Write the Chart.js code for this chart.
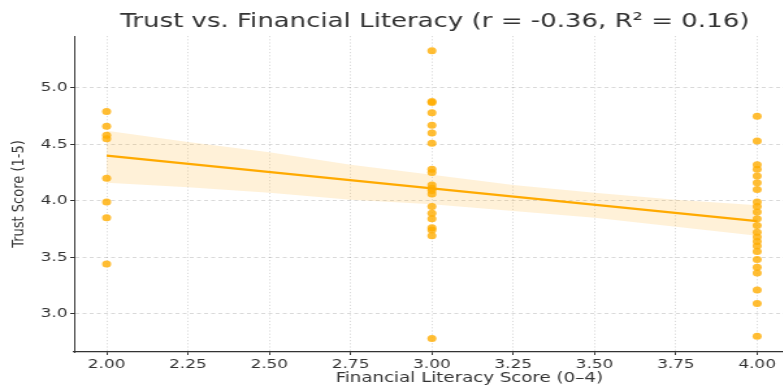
<!DOCTYPE html>
<html>
<head>
<meta charset="utf-8">
<script src="https://cdn.jsdelivr.net/npm/chart.js@4"></script>
<style>
  html, body { margin: 0; padding: 0; background: #fff; overflow: hidden; }
  #clip { width: 783px; height: 387px; overflow: hidden; }
  /* the reference figure is stretched sideways, so the chart is drawn narrower and widened */
  #wrap { width: 669px; height: 387px; transform: scaleX(1.3); transform-origin: 0 0; }
</style>
</head>
<body>
<div id="clip"><div id="wrap"><canvas id="myChart"></canvas></div></div>
<script>
// trust scores, one list per literacy score
const trust2 = [4.79, 4.66, 4.58, 4.55, 4.20, 3.99, 3.85, 3.44];
const trust3 = [5.33, 4.88, 4.87, 4.78, 4.67, 4.60, 4.51, 4.28, 4.25, 4.14, 4.11, 4.09, 4.06,
                3.95, 3.89, 3.84, 3.76, 3.74, 3.69, 2.78];
const trust4 = [4.75, 4.53, 4.32, 4.28, 4.22, 4.16, 4.10, 3.99, 3.95, 3.90, 3.84, 3.78, 3.72,
                3.68, 3.64, 3.60, 3.55, 3.48, 3.41, 3.36, 3.21, 3.09, 2.80];

// fitted line and confidence band
const fitX = [2, 4];
const fitY = [4.40, 3.82];
const bandX = [2, 2.25, 2.5, 2.75, 3, 3.25, 3.5, 3.75, 4];
const bandUpper = [4.62, 4.52, 4.43, 4.32, 4.23, 4.14, 4.07, 4.01, 3.96];
const bandLower = [4.16, 4.12, 4.07, 4.01, 3.97, 3.91, 3.85, 3.77, 3.69];

const xTicks = [2.0, 2.25, 2.5, 2.75, 3.0, 3.25, 3.5, 3.75, 4.0];
const yTicks = [3.0, 3.5, 4.0, 4.5, 5.0];

const points = [];
trust2.forEach(v => points.push({x: 2, y: v}));
trust3.forEach(v => points.push({x: 3, y: v}));
trust4.forEach(v => points.push({x: 4, y: v}));

const font = 'DejaVu Sans';

const config = {
    type: 'scatter',
    data: {
        datasets: [{
            // fitted line
            type: 'line',
            data: fitX.map((x, i) => ({x: x, y: fitY[i]})),
            borderColor: 'rgb(255,170,0)',
            borderWidth: 2.3,
            pointRadius: 0,
            fill: false,
            order: 0
        }, {
            data: points,
            backgroundColor: 'rgba(255,172,0,0.8)',
            borderWidth: 0,
            pointRadius: 3.5,
            order: 1
        }, {
            type: 'line',
            data: bandX.map((x, i) => ({x: x, y: bandUpper[i]})),
            borderWidth: 0,
            pointRadius: 0,
            fill: false,
            order: 2
        }, {
            type: 'line',
            data: bandX.map((x, i) => ({x: x, y: bandLower[i]})),
            borderWidth: 0,
            pointRadius: 0,
            backgroundColor: 'rgba(255,180,40,0.18)',
            fill: '-1',
            order: 3
        }]
    },
    options: {
        responsive: true,
        maintainAspectRatio: false,
        animation: false,
        layout: { padding: 0 },
        plugins: {
            legend: { display: false },
            tooltip: { enabled: false },
            title: {
                display: true,
                text: 'Trust vs. Financial Literacy (r = -0.36, R² = 0.16)',
                color: '#333',
                font: { family: font, size: 20, weight: 'normal' },
                padding: { top: 10, bottom: 2 }
            }
        },
        scales: {
            x: {
                type: 'linear',
                min: 1.9,
                max: 4.33,
                afterBuildTicks: s => { s.ticks = xTicks.map(v => ({value: v})); },
                afterFit: s => { s.height = 35; },
                ticks: {
                    color: '#333',
                    font: { family: font, size: 13 },
                    padding: 2,
                    callback: v => Number(v).toFixed(2)
                },
                grid: { color: 'rgba(0,0,0,0.15)', tickLength: 3, tickColor: '#333' },
                border: { color: '#333', width: 1.2, dash: [1.2, 2] },
                title: {
                    display: true,
                    text: 'Financial Literacy Score (0–4)',
                    color: '#333',
                    font: { family: font, size: 14 },
                    padding: { top: 0, bottom: 0 }
                }
            },
            y: {
                type: 'linear',
                min: 2.66,
                max: 5.46,
                afterBuildTicks: s => { s.ticks = yTicks.map(v => ({value: v})); },
                afterFit: s => { s.width = 57; },
                ticks: {
                    color: '#333',
                    font: { family: font, size: 13 },
                    padding: 2,
                    callback: v => Number(v).toFixed(1)
                },
                grid: { color: 'rgba(0,0,0,0.15)', tickLength: 3, tickColor: '#333' },
                border: { color: '#333', width: 1, dash: [3, 2.5] },
                title: {
                    display: true,
                    text: 'Trust Score (1-5)',
                    color: '#333',
                    font: { family: font, size: 13 },
                    padding: { top: 7, bottom: 2 }
                }
            }
        }
    }
};

const ctx = document.getElementById('myChart');
let chart = new Chart(ctx, config);
</script>
</body>
</html>
